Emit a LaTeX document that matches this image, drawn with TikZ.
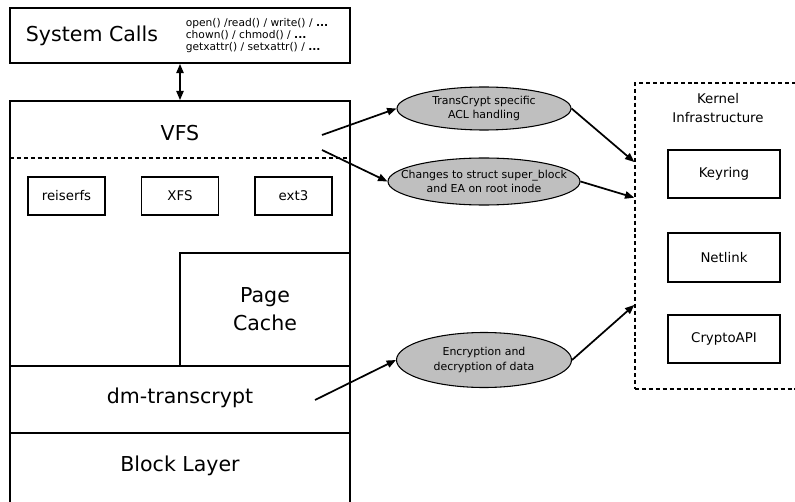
\documentclass[tikz,border=0pt]{standalone}
\usepackage{fontspec}
\setmainfont{DejaVu Sans}
\usetikzlibrary{arrows.meta,shapes.geometric}

\begin{document}
\begin{tikzpicture}[x=0.75pt, y=-0.75pt, line width=1.3pt,
        >={Triangle[length=7pt, width=5.5pt]},
        big/.style = {font=\fontsize{15.4}{21}\selectfont},
        small/.style = {font=\fontsize{8}{8.8}\selectfont},
        box/.style = {draw, inner sep=0pt, font=\fontsize{10}{12}\selectfont},
        fs/.style = {box, minimum width=57.75pt, minimum height=28.5pt},
        kmod/.style = {box, minimum width=84pt, minimum height=36.5pt},
        patch/.style = {draw, ellipse, fill=gray!50, line width=0.8pt, inner sep=0pt},
        patchtext/.style = {align=center, inner sep=0pt, font=\fontsize{8.2}{11}\selectfont},
        sep/.style = {dash pattern=on 3pt off 2.2pt, line width=1pt}]
    \useasboundingbox (0,0) rectangle (795,502);

    % system call layer
    \node[draw, minimum width=255pt, minimum height=41.25pt] (sys) at (180,35.5) {};
    \node[big] (syslabel) at (92,36) {System Calls};
    \node[small, align=left, anchor=west, inner sep=0pt] (calls) at (185,35.5)
        {open() /read() / write() / \textbf{...}\\chown() / chmod() / \textbf{...}\\getxattr() / setxattr() / \textbf{...}};

    % kernel stack
    \node[draw, minimum width=255pt, minimum height=303pt] (stack) at (180,303) {};
    \node[big] (vfs) at (180,133) {VFS};
    \draw[sep] (10,158) -- (350,158);
    \node[fs] (reiser) at (66.5,196) {reiserfs};
    \node[fs] (xfs) at (180,196) {XFS};
    \node[fs] (ext) at (293.5,196) {ext3};
    \node[draw, big, align=center, minimum width=127.5pt, minimum height=84.75pt] (cache) at (265,309.5) {Page\\Cache};
    \draw (10,366) -- (350,366);
    \node[big] (dm) at (180,398) {dm-transcrypt};
    \draw (10,433) -- (350,433);
    \node[big] (block) at (180,466) {Block Layer};

    \draw[<->] (sys) -- (stack);

    % changes
    \node[patch, minimum width=130.5pt, minimum height=32.25pt,
        label={[patchtext]center:{TransCrypt specific\\ACL handling}}] (tc) at (484,108.5) {};
    \node[patch, minimum width=144pt, minimum height=35.25pt,
        label={[patchtext]center:{Changes to struct super\_block\\and EA on root inode}}] (sb) at (484,181.5) {};
    \node[patch, minimum width=131.25pt, minimum height=41.25pt,
        label={[patchtext]center:{Encryption and\\decryption of data}}] (enc) at (484,360) {};

    % kernel infrastructure
    \node[draw, sep, minimum width=122.25pt, minimum height=229.5pt] (kern) at (716.5,236) {};
    \node[align=center, font=\fontsize{10}{14.25}\selectfont] (kernlabel) at (718,108) {Kernel\\Infrastructure};
    \node[kmod] (keyring) at (724,174) {Keyring};
    \node[kmod] (netlink) at (724,257.5) {Netlink};
    \node[kmod] (crypto) at (724,339) {CryptoAPI};

    \coordinate (vfsa) at (322,135);
    \coordinate (vfsb) at (322,150);
    \coordinate (dmout) at (315,400);

    \draw[->] (vfsa) -- (tc.west);
    \draw[->] (vfsb) -- (sb.west);
    \draw[->] (dmout) -- (enc.west);
    \draw[->] (tc.east) -- (kern.138);
    \draw[->] (sb.east) -- (kern.155);
    \draw[->] (enc.east) -- (kern.220);
\end{tikzpicture}
\end{document}
